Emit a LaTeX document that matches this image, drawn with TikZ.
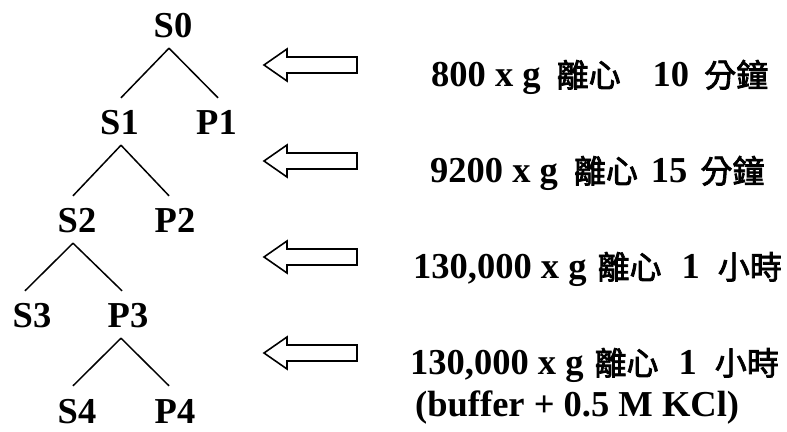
\documentclass[tikz,border=0pt]{standalone}
\usepackage{fontspec}
\setmainfont{Liberation Serif}
\newfontfamily\cjk{Noto Sans CJK TC}[FakeBold=2.5]
\begin{document}
\begin{tikzpicture}[x=1pt,y=1pt,
  treenode/.style={font=\fontsize{36.5}{44}\selectfont\bfseries, inner sep=0pt, text height=37pt, text depth=10pt, anchor=base},
  edge/.style={line width=1.5pt},
  hollowarrow/.style={line width=1.6pt, line join=miter},
  rtext/.style={font=\fontsize{36.5}{44}\selectfont\bfseries, inner sep=0pt, anchor=base west}
]
\useasboundingbox (0,0) rectangle (787,431);
\newcommand{\ck}[1]{{\cjk\mdseries\fontsize{32}{40}\selectfont #1}}
% tree nodes (y = 431 - baseline)
\node[treenode] (S0) at (173,393) {S0};
\node[treenode] (S1) at (119.5,296) {S1};
\node[treenode] (P1) at (216.5,296) {P1};
\node[treenode] (S2) at (77,198) {S2};
\node[treenode] (P2) at (175,198) {P2};
\node[treenode] (S3) at (32,103) {S3};
\node[treenode] (P3) at (128,103) {P3};
\node[treenode] (S4) at (77,8) {S4};
\node[treenode] (P4) at (175,8) {P4};
% connectors
\draw[edge] ([xshift=-4pt]S0.south) -- ([xshift=1.5pt]S1.north);
\draw[edge] ([xshift=-4pt]S0.south) -- ([xshift=1.5pt]P1.north);
\draw[edge] ([xshift=1.5pt]S1.south) -- ([xshift=-4pt]S2.north);
\draw[edge] ([xshift=1.5pt]S1.south) -- ([xshift=-6pt]P2.north);
\draw[edge] ([xshift=-4pt]S2.south) -- ([xshift=-7pt]S3.north);
\draw[edge] ([xshift=-4pt]S2.south) -- ([xshift=-6pt]P3.north);
\draw[edge] ([xshift=-7pt]P3.south) -- ([xshift=-4pt]S4.north);
\draw[edge] ([xshift=-7pt]P3.south) -- ([xshift=-6pt]P4.north);
% hollow arrows
\foreach \yy in {366,270,174,78}{
  \draw[hollowarrow] (264,\yy) -- (287,\yy+16) -- (287,\yy+8) -- (357,\yy+8) -- (357,\yy-8) -- (287,\yy-8) -- (287,\yy-16) -- cycle;
}
% right texts
\node[rtext] (t1) at (431,344) {800 x g\hspace{16pt}\ck{離心}\hspace{32pt}10\hspace{15pt}\ck{分鐘}};
\node[rtext] (t2) at (430,248) {9200 x g\hspace{16pt}\ck{離心}\hspace{13pt}15\hspace{13pt}\ck{分鐘}};
\node[rtext] (t3) at (413,152) {130,000 x g\hspace{11pt}\ck{離心}\hspace{20pt}1\hspace{18pt}\ck{小時}};
\node[rtext] (t4) at (410,56) {130,000 x g\hspace{11pt}\ck{離心}\hspace{20pt}1\hspace{18pt}\ck{小時}};
\node[rtext] (t5) at (415,15) {(buffer + 0.5 M KCl)};
\end{tikzpicture}
\end{document}
